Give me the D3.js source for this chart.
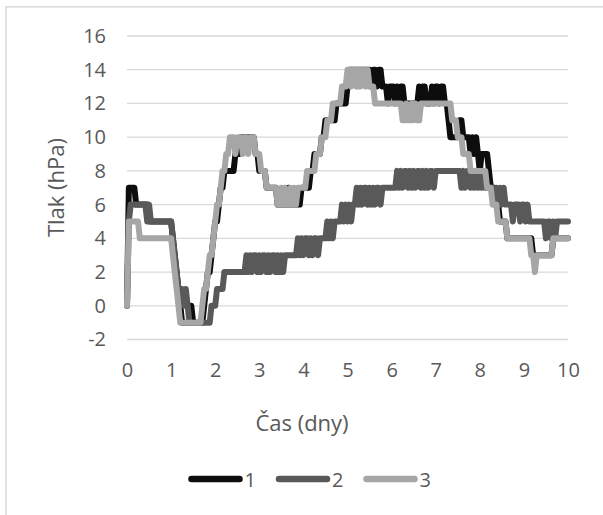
<!DOCTYPE html>
<html>
<head>
<meta charset="utf-8">
<script src="https://cdn.jsdelivr.net/npm/d3@7"></script>
<style>
  html, body { margin: 0; padding: 0; background: #fff; }
  svg { display: block; font-family: "Open Sans", "Noto Sans", sans-serif; }
</style>
</head>
<body>
<svg id="chart" width="603" height="515"></svg>
<script>
// Pressure readings (hPa), one sample per hour over 10 days (241 samples).
// Each row below holds one day (24 hourly values); the final value is t = 10 d.
const sampleStepDays = 1 / 24;

const series1 = [
  0,7,7,7,7,6,6,6,6,6,6,6,5,5,5,5,5,5,5,5,5,5,5,5,
  5,4,3,2,1,0,-1,-1,-1,-1,-1,0,-1,-1,-1,-1,-1,-1,0,1,2,2,3,4,
  5,5,6,7,7,8,8,8,8,8,8,9,9,9,10,10,10,10,10,10,10,10,9,9,
  8,8,8,8,7,7,7,7,7,7,6,6,6,6,6,6,7,6,6,6,6,6,6,7,
  7,7,7,7,8,8,9,9,9,9,10,10,11,11,11,11,11,11,12,12,12,12,12,12,
  13,14,14,14,14,14,14,14,14,14,14,14,14,13,14,14,13,14,14,13,13,13,12,13,
  13,13,12,13,12,13,13,12,12,12,12,12,12,12,12,13,12,13,13,12,12,12,13,12,
  13,13,12,13,13,12,12,11,10,10,10,10,10,11,11,10,10,10,10,9,10,9,10,9,
  8,9,9,9,9,8,7,7,7,6,6,5,5,5,5,4,4,4,4,4,4,4,4,4,
  4,4,4,4,4,3,3,3,3,3,3,3,3,3,3,3,4,4,4,4,4,4,4,4,
  4
];

const series2 = [
  0,5,6,6,6,6,6,6,6,6,6,5,6,5,5,5,5,5,5,5,5,5,5,5,
  5,4,3,2,1,1,1,0,1,0,-1,-1,-1,-1,-1,-1,-1,-1,-1,-1,-1,-1,0,0,
  0,1,1,1,1,2,2,2,2,2,2,2,2,2,2,2,2,3,2,3,2,3,3,2,
  3,2,3,3,2,3,2,3,3,2,3,2,3,2,3,3,3,3,3,3,3,4,3,4,
  3,4,4,3,4,3,4,4,3,4,4,4,4,5,4,5,4,5,5,5,5,6,5,6,
  5,6,5,6,6,7,6,7,6,7,7,6,7,6,7,6,7,7,6,7,7,7,7,7,
  7,7,7,8,7,8,7,8,8,7,8,7,8,7,8,8,7,8,7,8,7,8,8,7,
  8,8,8,8,8,8,8,8,8,8,8,8,8,8,7,8,7,8,8,7,8,7,8,7,
  8,7,8,7,7,7,7,7,6,7,6,7,6,7,6,6,6,6,5,6,6,6,5,6,
  6,5,6,5,5,5,5,5,5,5,5,5,4,5,5,4,5,4,5,5,5,5,5,5,
  5
];

const series3 = [
  0,5,5,5,5,5,5,4,4,4,4,4,4,4,4,4,4,4,4,4,4,4,4,4,
  4,3,2,1,0,-1,-1,-1,-1,-1,-1,-1,-1,-1,-1,-1,-1,0,1,1,2,3,3,4,
  5,6,6,7,8,8,9,9,10,10,10,9,10,10,10,9,10,10,9,10,10,10,9,9,
  9,8,8,8,7,7,7,7,7,7,6,6,7,6,7,6,6,7,6,7,6,7,7,7,
  7,7,8,8,8,8,8,9,9,9,10,10,10,11,11,11,12,12,12,12,12,13,13,13,
  14,14,13,14,14,13,14,13,14,14,13,14,13,13,13,12,12,12,12,12,12,12,12,12,
  12,12,12,12,12,12,11,11,12,11,11,12,11,12,11,11,12,12,12,12,12,12,12,12,
  12,12,12,12,12,12,12,12,12,11,11,11,10,10,10,9,9,9,9,8,8,8,8,8,
  8,8,8,8,7,7,7,6,6,6,5,5,5,5,5,4,4,4,4,4,4,4,4,4,
  4,4,4,4,3,3,2,3,3,3,3,3,3,3,3,3,4,4,4,4,4,4,4,4,
  4
];

const seriesNames = ["1", "2", "3"];
const seriesColors = ["#0d0d0d", "#595959", "#a6a6a6"];
const xTicks = [0, 1, 2, 3, 4, 5, 6, 7, 8, 9, 10];
const yTicks = [-2, 0, 2, 4, 6, 8, 10, 12, 14, 16];
const xTitle = "Čas (dny)";
const yTitle = "Tlak (hPa)";

const svg = d3.select("#chart");
const textColor = "#595959";
const gridColor = "#d9d9d9";
// plain hyphen-minus for negative tick values
const tickText = d => (d < 0 ? "-" + Math.abs(d) : String(d));

// chart area frame
svg.append("rect")
  .attr("x", 6).attr("y", 6.8)
  .attr("width", 700).attr("height", 600)
  .attr("fill", "#fff")
  .attr("stroke", gridColor)
  .attr("stroke-width", 1.5);

const x = d3.scaleLinear().domain([0, 10]).range([127, 568]);
const y = d3.scaleLinear().domain([-2, 16]).range([339.5, 36]);

// horizontal gridlines
svg.append("g")
  .selectAll("line")
  .data(yTicks)
  .join("line")
  .attr("x1", x.range()[0]).attr("x2", x.range()[1])
  .attr("y1", d => y(d)).attr("y2", d => y(d))
  .attr("stroke", gridColor)
  .attr("stroke-width", 1.3);

// y axis labels
const yAxis = svg.append("g")
  .attr("transform", `translate(${x.range()[0]},0)`)
  .call(d3.axisLeft(y).tickValues(yTicks).tickFormat(tickText).tickSize(0).tickPadding(21));
yAxis.select(".domain").remove();
yAxis.selectAll("text")
  .attr("fill", textColor)
  .style("font-size", "20px")
  .style("font-family", "'Open Sans', sans-serif");

// x axis labels
const xAxis = svg.append("g")
  .attr("transform", `translate(0,${y(-2)})`)
  .call(d3.axisBottom(x).tickValues(xTicks).tickFormat(tickText).tickSize(0).tickPadding(23));
xAxis.select(".domain").remove();
xAxis.selectAll("text")
  .attr("fill", textColor)
  .style("font-size", "20px")
  .style("font-family", "'Open Sans', sans-serif");

// axis titles
svg.append("text")
  .attr("transform", "translate(63.5,187.5) rotate(-90)")
  .attr("text-anchor", "middle")
  .attr("fill", textColor)
  .style("font-size", "22px")
  .text(yTitle);

svg.append("text")
  .attr("x", 302).attr("y", 431)
  .attr("text-anchor", "middle")
  .attr("fill", textColor)
  .style("font-size", "22px")
  .text(xTitle);

// series lines
const allSeries = [series1, series2, series3];
const line = d3.line()
  .x((d, i) => x(i * sampleStepDays))
  .y(d => y(d));

svg.append("g")
  .selectAll("path")
  .data(allSeries)
  .join("path")
  .attr("d", d => line(d))
  .attr("fill", "none")
  .attr("stroke", (d, i) => seriesColors[i])
  .attr("stroke-width", 6)
  .attr("stroke-linejoin", "round")
  .attr("stroke-linecap", "round");

// legend
const legendY = 479;
const legendStart = 191.5;
const legendGap = 87.5;
const legend = svg.append("g")
  .selectAll("g")
  .data(seriesNames)
  .join("g")
  .attr("transform", (d, i) => `translate(${legendStart + i * legendGap},${legendY})`);

legend.append("line")
  .attr("x1", 0).attr("x2", 48)
  .attr("y1", 0).attr("y2", 0)
  .attr("stroke", (d, i) => seriesColors[i])
  .attr("stroke-width", 6.5)
  .attr("stroke-linecap", "round");

legend.append("text")
  .attr("x", 53).attr("y", 7.5)
  .attr("fill", textColor)
  .style("font-size", "20px")
  .text(d => d);
</script>
</body>
</html>
